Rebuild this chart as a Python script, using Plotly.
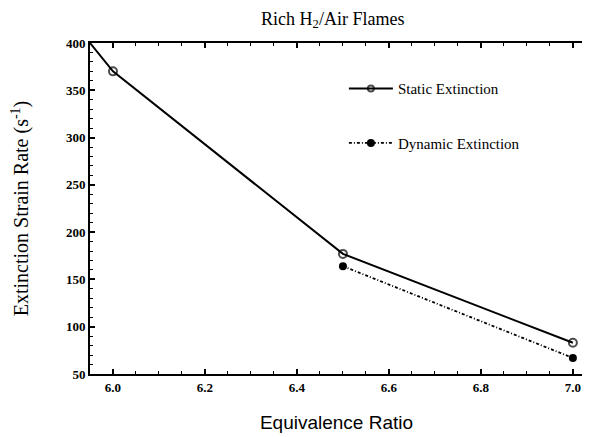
import plotly.graph_objs as go

# data
static_phi = [5.95, 6.0, 6.5, 7.0]
static_rate = [400, 370, 177, 83]
dynamic_phi = [6.5, 7.0]
dynamic_rate = [164, 67]

x_ticks = [6.0, 6.2, 6.4, 6.6, 6.8, 7.0]
x_labels = ['6.0', '6.2', '6.4', '6.6', '6.8', '7.0']
y_ticks = [50, 100, 150, 200, 250, 300, 350, 400]

serif = 'Liberation Serif'

fig = go.Figure()

# line for static extinction (first point is only the entry at the corner)
fig.add_trace(go.Scatter(
    x=static_phi, y=static_rate,
    mode='lines+markers',
    name='Static Extinction',
    line=dict(color='black', width=2),
    marker=dict(symbol='circle-open', size=[0, 8, 8, 8], color='black',
                line=dict(width=2)),
    legendgroup='a',
))

fig.add_trace(go.Scatter(
    x=dynamic_phi, y=dynamic_rate,
    mode='lines+markers',
    name='Dynamic Extinction',
    line=dict(color='black', width=1.8, dash='3px,2px,1px,2px'),
    marker=dict(symbol='circle', size=8, color='black'),
    legendgroup='b',
))

# page body has an 8px margin, so the figure is a bit smaller than the window
fig.update_layout(
    width=582, height=429,
    margin=dict(l=82, r=7, t=35, b=63),
    plot_bgcolor='white',
    paper_bgcolor='white',
    title=dict(text='Rich H<sub>2</sub>/Air Flames', x=0.558, xanchor='center',
               y=0.976, yanchor='middle',
               font=dict(family=serif, size=18, color='black')),
    legend=dict(x=0.515, y=0.912, xanchor='left', yanchor='top',
                bgcolor='rgba(0,0,0,0)', tracegroupgap=32, itemwidth=44,
                font=dict(family=serif, size=15, color='black')),
)

fig.update_xaxes(
    range=[5.95, 7.022],
    automargin=False,
    tickvals=x_ticks, ticktext=x_labels,
    ticklabeloverflow='allow',
    ticks='inside', ticklen=5, tickwidth=1.5, tickcolor='black',
    minor=dict(dtick=0.05, tick0=6.0, ticks='inside', ticklen=3,
               tickcolor='black', tickwidth=1),
    showline=True, linecolor='black', linewidth=2, mirror='ticks',
    showgrid=False, zeroline=False,
    tickfont=dict(family=serif, size=13, color='black', weight='bold'),
    title=dict(text='Equivalence Ratio', standoff=22,
               font=dict(family='Liberation Sans', size=19, color='black')),
)

fig.update_yaxes(
    range=[50, 400],
    automargin=False,
    tickvals=y_ticks,
    ticks='inside', ticklen=5, tickwidth=1.5, tickcolor='black',
    minor=dict(dtick=10, tick0=50, ticks='inside', ticklen=3,
               tickcolor='black', tickwidth=1),
    showline=True, linecolor='black', linewidth=2,
    showgrid=False, zeroline=False,
    tickfont=dict(family=serif, size=13, color='black', weight='bold'),
    title=dict(text='Extinction Strain Rate (s<sup>-1</sup>)', standoff=32,
               font=dict(family=serif, size=20, color='black')),
)

fig.write_html("out.html")
